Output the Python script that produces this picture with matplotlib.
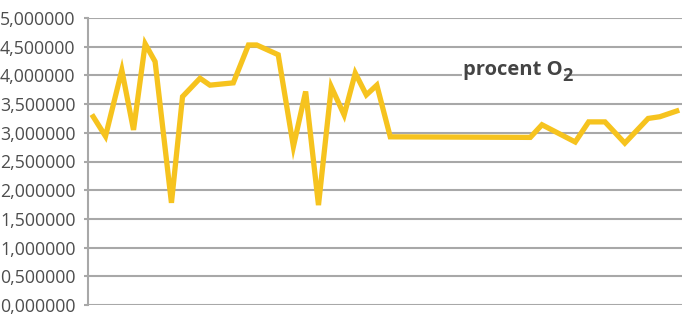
import matplotlib
matplotlib.use("Agg")
import matplotlib.pyplot as plt
from matplotlib.ticker import FuncFormatter, MultipleLocator

plt.rcParams['font.family'] = ['Open Sans', 'DejaVu Sans']

# sample positions (relative time of measurement) and oxygen percentage
czas = [0.0, 2.1, 4.9, 6.9, 8.9, 10.6, 13.4, 15.3, 18.3, 20.0, 24.0, 26.6,
        28.0, 31.7, 34.3, 36.4, 38.6, 40.8, 43.0, 44.9, 46.8, 48.6, 50.9,
        74.9, 76.9, 82.6, 84.9, 87.7, 91.1, 95.1, 97.1, 100.0]
procent_o2 = [3.28, 2.94, 4.09, 3.05, 4.55, 4.24, 1.78, 3.63, 3.95, 3.83,
              3.87, 4.53, 4.53, 4.36, 2.76, 3.72, 1.74, 3.80, 3.31, 4.04,
              3.66, 3.83, 2.93, 2.92, 3.14, 2.84, 3.19, 3.19, 2.82, 3.25,
              3.28, 3.38]

fig = plt.figure(figsize=(6.82, 3.20), dpi=100)
ax = fig.add_axes([88 / 682, 15 / 320, 1 - 88 / 682, 287 / 320])

grid_col = '#a8a8a8'
ax.set_ylim(0, 5)
ax.set_xlim(-0.9, 100.9)
ax.yaxis.set_major_locator(MultipleLocator(0.5))
ax.yaxis.set_major_formatter(FuncFormatter(lambda v, p: f"{v:.6f}".replace('.', ',')))
ax.set_xticks([])
ax.grid(axis='y', color=grid_col, linewidth=1.5)
ax.set_axisbelow(True)
for side in ('top', 'right', 'bottom'):
    ax.spines[side].set_visible(False)
ax.spines['left'].set_color(grid_col)
ax.spines['left'].set_linewidth(1.5)
ax.tick_params(axis='y', length=3, width=1.5, color=grid_col, pad=6,
               labelsize=12.8, labelcolor='#4d4d4d')

ax.plot(czas, procent_o2, color='#f6c31e', linewidth=3.8,
        solid_joinstyle='miter', zorder=3)

label = ax.text(63.4, 4.0, 'procent O', fontsize=14.5, fontweight='bold',
                color='#444444', ha='left', va='baseline',
                bbox=dict(facecolor='white', edgecolor='none', pad=1.0), zorder=4)
ax.annotate('2', xy=(1, 0), xycoords=label, xytext=(-0.3, -3.0),
            textcoords='offset points', fontsize=13, fontweight='bold',
            color='#444444', ha='left', va='bottom', zorder=5)

fig.savefig('out.png', dpi=100)
